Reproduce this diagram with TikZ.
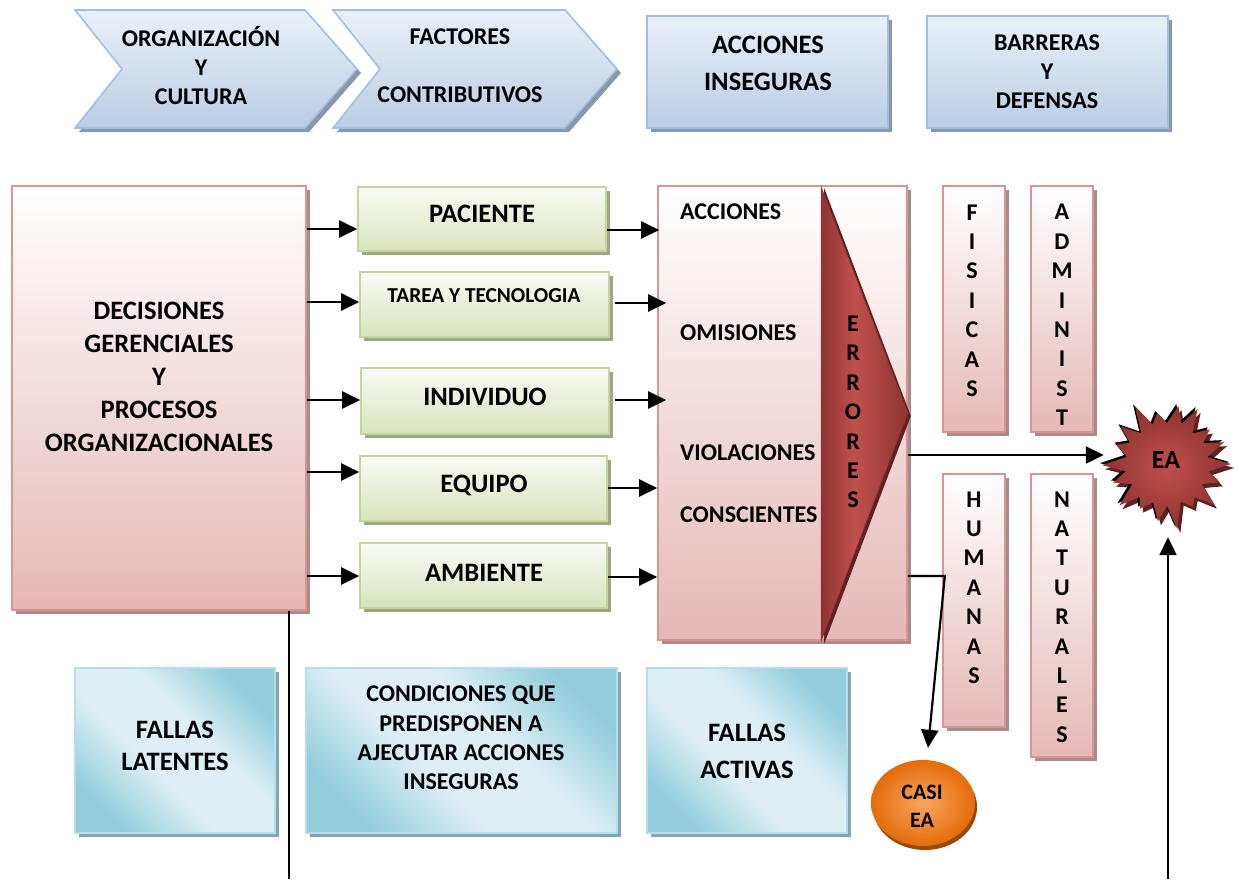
\documentclass[tikz,border=0pt]{standalone}
\usepackage{fontspec}
\setmainfont{Carlito}
\usetikzlibrary{arrows.meta,calc,shadows,shapes.geometric}

% palette
\definecolor{pinkB}{HTML}{E5B8B7}
\definecolor{pinkE}{HTML}{D99594}
\definecolor{pinkS}{HTML}{A88C8B}
\definecolor{grnT}{HTML}{F9FBF4}
\definecolor{grnB}{HTML}{D7E4BD}
\definecolor{grnE}{HTML}{C3D69B}
\definecolor{grnS}{HTML}{9DA788}
\definecolor{bluT}{HTML}{EAF0F8}
\definecolor{bluB}{HTML}{B9CDE5}
\definecolor{bluE}{HTML}{A4BEDE}
\definecolor{bluS}{HTML}{8798AE}
\definecolor{cyL}{HTML}{DDEFF4}
\definecolor{cyD}{HTML}{93CDDD}
\definecolor{cyE}{HTML}{B7DDE8}
\definecolor{cyS}{HTML}{83A6B0}
\definecolor{erL}{HTML}{C0504D}
\definecolor{erD}{HTML}{8E3331}
\definecolor{erS}{HTML}{5E2221}
\definecolor{orL}{HTML}{F9A65E}
\definecolor{orD}{HTML}{E36C0A}
\definecolor{orS}{HTML}{984807}

% diagonal band fill of the bottom boxes
\pgfdeclarehorizontalshading{cyanband}{100bp}{color(0bp)=(cyD); color(25bp)=(cyD); color(42bp)=(cyL); color(58bp)=(cyL); color(75bp)=(cyD); color(100bp)=(cyD)}
% red band of the ERRORES wedge
\pgfdeclarehorizontalshading{errband}{100bp}{color(0bp)=(erD); color(25bp)=(erD); color(44bp)=(erL); color(75bp)=(erD); color(100bp)=(erD)}

\tikzset{
  box/.style={rectangle, line width=1.6pt, inner sep=0pt},
  shad/.style={drop shadow={shadow xshift=4pt, shadow yshift=-4pt, fill=#1, opacity=1}},
  pinkbox/.style={box, draw=pinkE, top color=white, bottom color=pinkB, shad=pinkS},
  greenbox/.style={box, draw=grnE, top color=grnT, bottom color=grnB, shad=grnS},
  bluebox/.style={box, draw=bluE, top color=bluT, bottom color=bluB, shad=bluS},
  cyanbox/.style={box, draw=cyE, shading=cyanband, shading angle=45, shad=cyS},
  chev/.style={draw=bluE, line width=1.6pt, top color=bluT, bottom color=bluB, shad=bluS},
  txt/.style={align=center, inner sep=0pt},
  fA/.style={font=\fontsize{26.6}{33}\selectfont\bfseries},
  fAI/.style={font=\fontsize{26.6}{37}\selectfont\bfseries},
  fB/.style={font=\fontsize{24}{29}\selectfont\bfseries},
  fC/.style={font=\fontsize{21.3}{26}\selectfont\bfseries},
  fV/.style={font=\fontsize{24}{29.4}\selectfont\bfseries},
  fS/.style={font=\fontsize{22}{28}\selectfont\bfseries},
  arr/.style={line width=2.2pt, -{Triangle[length=18pt,width=17pt]}},
  plain/.style={line width=2pt},
}

\begin{document}
\begin{tikzpicture}[x=1pt,y=-1pt]
\useasboundingbox (0,0) rectangle (1238,879);

% ---- header row ----
\path[chev] (75,10) -- (305,10) -- (357,69) -- (305,128) -- (75,128) -- (122,69) -- cycle;
\node[txt,fB] (orgT) at (201,66) {ORGANIZACIÓN\\Y\\CULTURA};
\path[chev] (333,10) -- (565,10) -- (617,69) -- (565,128) -- (333,128) -- (380,69) -- cycle;
\node[txt,fB] (facT) at (460,66) {FACTORES\\[29pt]CONTRIBUTIVOS};
\node[bluebox, minimum width=241, minimum height=112] (ai) at (767.5,72) {};
\node[txt,fAI] (aiT) at (768,63.5) {ACCIONES\\INSEGURAS};
\node[bluebox, minimum width=241, minimum height=112] (bar) at (1047.5,72) {};
\node[txt,fB] (barT) at (1047,72) {BARRERAS\\Y\\DEFENSAS};

% ---- organisation box ----
\node[pinkbox, minimum width=294, minimum height=424] (dec) at (159,398) {};
\node[txt,fA] (decT) at (159,377) {DECISIONES\\GERENCIALES\\Y\\PROCESOS\\ORGANIZACIONALES};

% ---- contributing factors ----
\node[greenbox, minimum width=248, minimum height=64] (pac) at (482,219) {};
\node[txt,fA] at (482,214) (pacT) {PACIENTE};
\node[greenbox, minimum width=249, minimum height=65] (tar) at (484.5,304.5) {};
\node[txt,fC] at (484,296) (tarT) {TAREA Y TECNOLOGIA};
\node[greenbox, minimum width=248, minimum height=66] (ind) at (485,401) {};
\node[txt,fA] at (485,397) (indT) {INDIVIDUO};
\node[greenbox, minimum width=247, minimum height=65] (equ) at (483.5,488.5) {};
\node[txt,fA] at (484,485) (equT) {EQUIPO};
\node[greenbox, minimum width=247, minimum height=65] (amb) at (483.5,575.5) {};
\node[txt,fA] at (484,573) (ambT) {AMBIENTE};

% ---- unsafe acts ----
\node[pinkbox, minimum width=249, minimum height=454] (acc) at (782.5,413) {};
\fill[erS] ($(acc.north west)+(167,3)$) -- ($(acc.east)+(3,3)$) -- ($(acc.south west)+(167,3)$) -- cycle;
\path[shading=errband, draw=erD, line width=0.6pt] ($(acc.north west)+(164,2)$) -- (acc.east) -- ($(acc.south west)+(164,0)$) -- cycle;
\node[txt,fB,anchor=west] (a1) at (680,212) {ACCIONES};
\node[txt,fB,anchor=west] (a2) at (680,333) {OMISIONES};
\node[txt,fB,anchor=west] (a3) at (680,453) {VIOLACIONES};
\node[txt,fB,anchor=west] (a4) at (680,515) {CONSCIENTES};
\node[txt,fV] (err) at (853,412) {E\\R\\R\\O\\R\\E\\S};

% ---- barriers ----
\node[pinkbox, minimum width=62, minimum height=246] (fis) at (974,309) {};
\node[txt,fV] (fisT) at (972,300.5) {F\\I\\S\\I\\C\\A\\S};
\node[pinkbox, minimum width=62, minimum height=246] (adm) at (1062,309) {};
\node[txt,fV] (admT) at (1062,315) {A\\D\\M\\I\\N\\I\\S\\T};
\node[pinkbox, minimum width=62, minimum height=253] (hum) at (974,600.5) {};
\node[txt,fV] (humT) at (974,587.5) {H\\U\\M\\A\\N\\A\\S};
\node[pinkbox, minimum width=62, minimum height=283] (nat) at (1062,615.5) {};
\node[txt,fV] (natT) at (1062,617) {N\\A\\T\\U\\R\\A\\L\\E\\S};

% ---- adverse event (explosion burst) ----
\begin{scope}[shift={(1167,464)}]
  \def\burst{(0:64) -- (10:42) -- (19:56) -- (30:40) -- (41:62) -- (50:43) -- (59:50) -- (70:40) -- (81:66) -- (90:42) -- (99:58) -- (110:41) -- (121:52) -- (130:43) -- (139:63) -- (150:40) -- (161:57) -- (170:42) -- (179:65) -- (190:41) -- (201:54) -- (210:43) -- (219:60) -- (230:40) -- (241:66) -- (250:42) -- (259:52) -- (270:41) -- (281:59) -- (290:43) -- (299:63) -- (310:40) -- (321:55) -- (330:42) -- (339:61) -- (350:41) -- cycle}
  \fill[erS, shift={(3,4)}] \burst;
  \fill[black, shift={(-2,-2)}] \burst;
  \path[inner color=erL, outer color=erD] \burst;
\end{scope}
\node[circle, minimum size=124, inner sep=0pt, font=\fontsize{26}{30}\selectfont\bfseries] (ea) at (1166,460) {EA};

% ---- near miss ----
\node[ellipse, minimum width=104, minimum height=86, inner sep=0pt, inner color=orL, outer color=orD,
      drop shadow={shadow xshift=2pt, shadow yshift=-4pt, fill=orS, opacity=1}] (casi) at (923,803) {};
\node[txt,fS] (casiT) at (922,806) {CASI\\EA};

% ---- bottom labels ----
\node[cyanbox, minimum width=200, minimum height=165] (lat) at (175,750.5) {};
\node[txt,font=\fontsize{26.6}{32}\selectfont\bfseries] (latT) at (175,746) {FALLAS\\LATENTES};
\node[cyanbox, minimum width=311, minimum height=165] (cond) at (461.5,750.5) {};
\node[txt,font=\fontsize{24}{29.3}\selectfont\bfseries] (condT) at (461,738) {CONDICIONES QUE\\PREDISPONEN A\\AJECUTAR ACCIONES\\INSEGURAS};
\node[cyanbox, minimum width=200, minimum height=165] (act) at (747,750.5) {};
\node[txt,fAI] (actT) at (747,751.5) {FALLAS\\ACTIVAS};

% ---- connectors ----
\foreach \n/\dy in {pac/10, tar/-2.5, ind/-1, equ/-16.5, amb/0.5}
  \draw[arr] ($(dec.east |- \n.west)+(0,\dy)$) -- ($(\n.west)+(0,\dy)$);
\foreach \n/\dy/\g/\e in {pac/11/0/2, tar/-1.5/5/9, ind/-1/5/9, equ/-0.5/0/0, amb/1.5/0/0}
  \draw[arr] ($(\n.east)+(\g,\dy)$) -- ($(acc.west |- \n.east)+(\e,\dy)$);
\path ($(acc.east)+(0,42)$) coordinate (toEA) ($(acc.east)+(0,163)$) coordinate (toCasi);
\draw[arr] (toEA) -- (toEA -| ea.west);
\draw[arr] (toCasi) -- ++(37,0) -- ($(casi.north)+(5,-12)$);
\coordinate (lb) at (289,879);
\draw[plain] (dec.south -| lb) -- (lb);
\coordinate (eb) at (1168,879);
\draw[arr] (eb) -- ($(eb |- ea.south)+(0,15)$);
\end{tikzpicture}
\end{document}
